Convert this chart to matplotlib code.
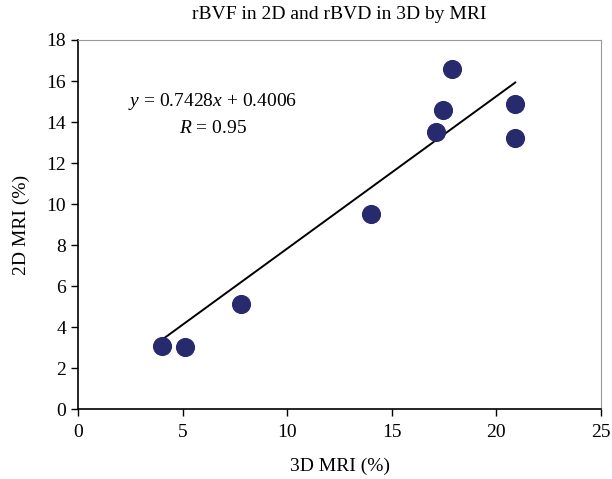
import numpy as np
import matplotlib.pyplot as plt

# values
mri_3d = [4.0, 5.1, 7.8, 14.0, 17.1, 17.45, 17.9, 20.9, 20.9]
mri_2d = [3.1, 3.05, 5.1, 9.5, 13.5, 14.6, 16.6, 14.9, 13.2]
slope = 0.7428
intercept = 0.4006

plt.rcParams['font.family'] = ['Liberation Serif', 'DejaVu Serif']
plt.rcParams['mathtext.fontset'] = 'custom'
plt.rcParams['mathtext.rm'] = 'Liberation Serif'
plt.rcParams['mathtext.it'] = 'Liberation Serif:italic'

fig = plt.figure(figsize=(6.12, 4.79), dpi=100)
ax = fig.add_axes([0.1275, 0.146, 0.8545, 0.7705])

ax.scatter(mri_3d, mri_2d, s=190, color='#282a6e', zorder=3, linewidths=0)
xfit = np.array([min(mri_3d), max(mri_3d)])
ax.plot(xfit, slope * xfit + intercept, color='black', lw=1.4, zorder=2)

ax.set_xlim(0, 25)
ax.set_ylim(0, 18)
ax.set_xticks(range(0, 26, 5))
ax.set_yticks(range(0, 19, 2))
ax.tick_params(direction='out', length=5, width=1, labelsize=14, color='black')
ax.tick_params(axis='x', pad=6)
ax.spines['left'].set_linewidth(1.2)
ax.spines['bottom'].set_linewidth(1.2)
for s in ['top', 'right']:
    ax.spines[s].set_color('#999999')
    ax.spines[s].set_linewidth(0.8)

ax.set_xlabel('3D MRI (%)', fontsize=14, labelpad=12)
ax.set_ylabel('2D MRI (%)', fontsize=14, labelpad=12)
ax.set_title('rBVF in 2D and rBVD in 3D by MRI', fontsize=14, pad=15)

ax.text(6.45, 15.0, r'$y$ = 0.7428$x$ + 0.4006', fontsize=14, ha='center', va='center')
ax.text(6.45, 13.7, r'$R$ = 0.95', fontsize=14, ha='center', va='center')

plt.savefig('out.png', dpi=100)
